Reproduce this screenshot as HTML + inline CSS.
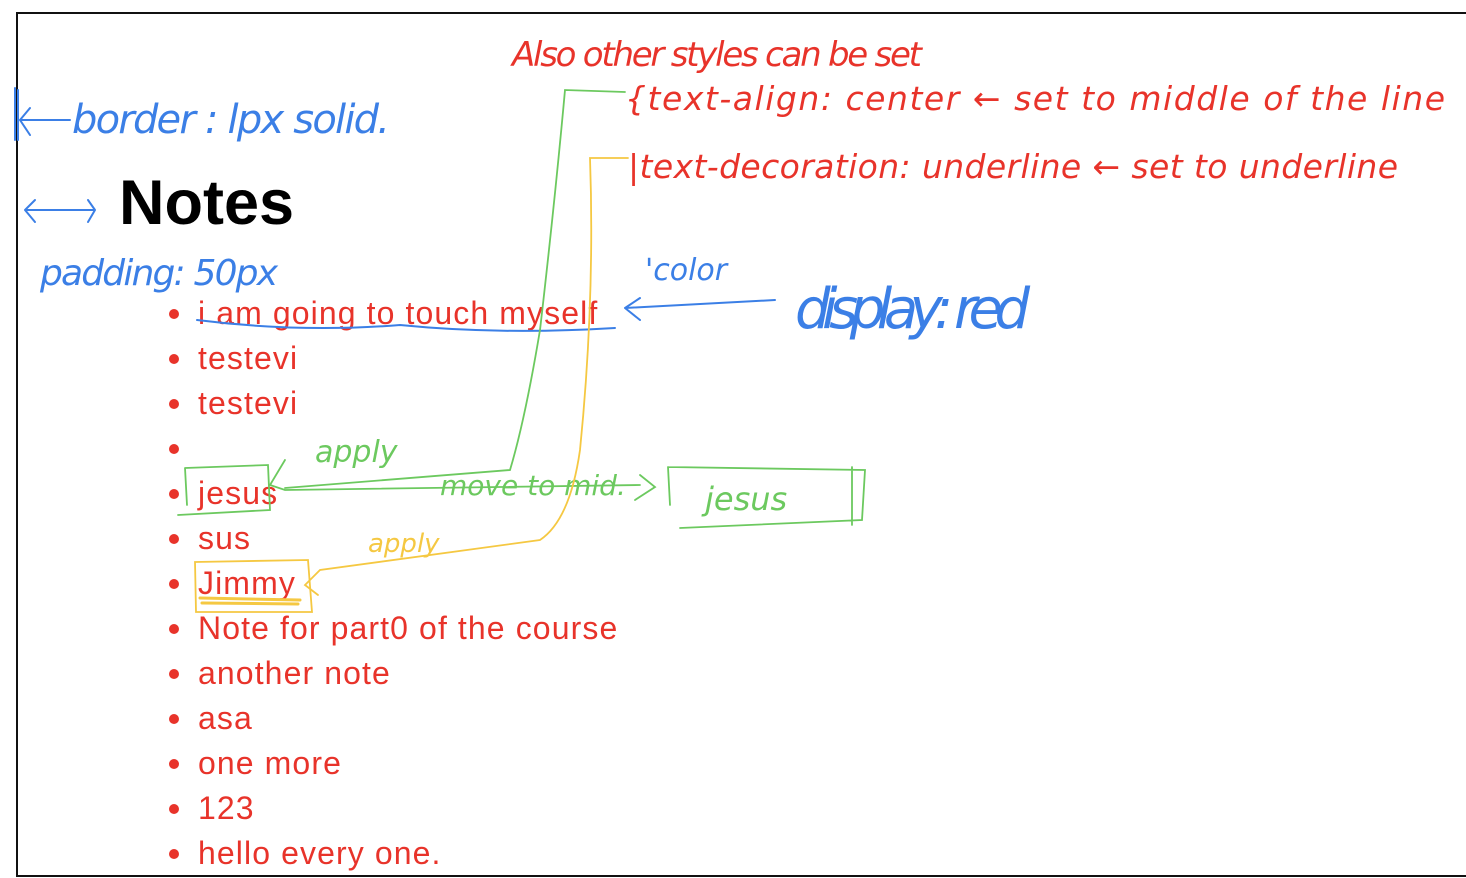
<!DOCTYPE html>
<html><head><meta charset="utf-8"><style>
html,body{margin:0;padding:0;width:1466px;height:878px;overflow:hidden;background:#fff;font-family:"Liberation Sans",Arial,sans-serif}
#box{position:absolute;left:16px;top:12px;width:1460px;height:861px;border:2px solid #111;border-right:none}
h1{position:absolute;left:119px;top:168px;margin:0;font-size:63px;font-weight:bold;color:#000;line-height:70px}
.li{position:absolute;left:198px;font-size:32px;letter-spacing:1.1px;color:#e8332a;line-height:36px;white-space:nowrap}
.b{position:absolute;left:169px;width:10px;height:10px;border-radius:50%;background:#e8332a}
svg{position:absolute;left:0;top:0}
svg text{font-family:"DejaVu Sans",sans-serif;font-style:italic}
</style></head><body>
<div id="box"></div>
<h1>Notes</h1>
<div class="li" style="top:295px">i am going to touch myself</div>
<div class="li" style="top:340px">testevi</div>
<div class="li" style="top:385px">testevi</div>
<div class="li" style="top:475px">jesus</div>
<div class="li" style="top:520px">sus</div>
<div class="li" style="top:565px">Jimmy</div>
<div class="li" style="top:610px">Note for part0 of the course</div>
<div class="li" style="top:655px">another note</div>
<div class="li" style="top:700px">asa</div>
<div class="li" style="top:745px">one more</div>
<div class="li" style="top:790px">123</div>
<div class="li" style="top:835px">hello every one.</div>
<div class="b" style="top:309px"></div><div class="b" style="top:354px"></div><div class="b" style="top:399px"></div><div class="b" style="top:444px"></div><div class="b" style="top:489px"></div><div class="b" style="top:534px"></div><div class="b" style="top:579px"></div><div class="b" style="top:624px"></div><div class="b" style="top:669px"></div><div class="b" style="top:714px"></div><div class="b" style="top:759px"></div><div class="b" style="top:804px"></div><div class="b" style="top:849px"></div>
<svg width="1466" height="878" fill="none" stroke-linecap="round">
<g stroke="#3b7fe6" stroke-width="2">
<path d="M15 88 L15 140 M18 90 L18 140 M20 120 L70 120 M20 120 L30 108 M20 120 L30 135"/>
<path d="M25 210 L95 210 M25 210 L35 200 M25 210 L35 222 M95 210 L88 200 M95 210 L88 222"/>
<path d="M197 320 Q300 333 400 325 Q500 335 615 328"/>
<path d="M775 300 L625 308 M625 308 L640 298 M625 308 L640 320"/>
</g>
<g fill="#3b7fe6" font-size="40">
<text x="72" y="133" font-size="40" textLength="318">border : lpx  solid.</text>
<text x="40" y="285" font-size="36" textLength="238">padding: 50px</text>
<text x="645" y="280" font-size="30">'color</text>
<text x="795" y="328" font-size="56" textLength="235">display: red</text>
</g>
<g fill="#e8332a">
<text x="512" y="66" font-size="34" textLength="410">Also other styles can be set</text>
<text x="625" y="110" font-size="33" textLength="820">{text-align:  center  ←  set  to  middle of the line</text>
<text x="628" y="178" font-size="33" textLength="770">|text-decoration:  underline ←  set to underline</text>
</g>
<g stroke="#6cc95f" stroke-width="1.8">
<path d="M625 92 L565 90 Q555 200 540 330 Q525 420 510 470 L285 488"/>
<path d="M185 468 L268 465 L270 510 L178 515 M185 468 L187 505"/>
<path d="M285 460 L270 485 L285 490 L640 485 M640 475 L655 487 L635 500"/>
<path d="M668 467 L865 470 L862 520 L680 528 M668 467 L670 505 M852 467 L852 525"/>
</g>
<g fill="#6cc95f"><text x="315" y="462" font-size="30">apply</text><text x="440" y="495" font-size="28">move to mid.</text><text x="705" y="510" font-size="32">jesus</text></g>
<g stroke="#f5c842" stroke-width="1.8">
<path d="M628 158 L590 158 Q595 300 580 450 Q570 520 540 540 L320 570 L305 585 L318 595"/>
<path d="M195 562 L308 560 L312 612 L196 612 Z"/>
<path d="M200 598 L300 600 M202 603 L298 604" stroke-width="3"/>
</g>
<g fill="#f5c842"><text x="368" y="552" font-size="26">apply</text></g>
</svg>
</body></html>
